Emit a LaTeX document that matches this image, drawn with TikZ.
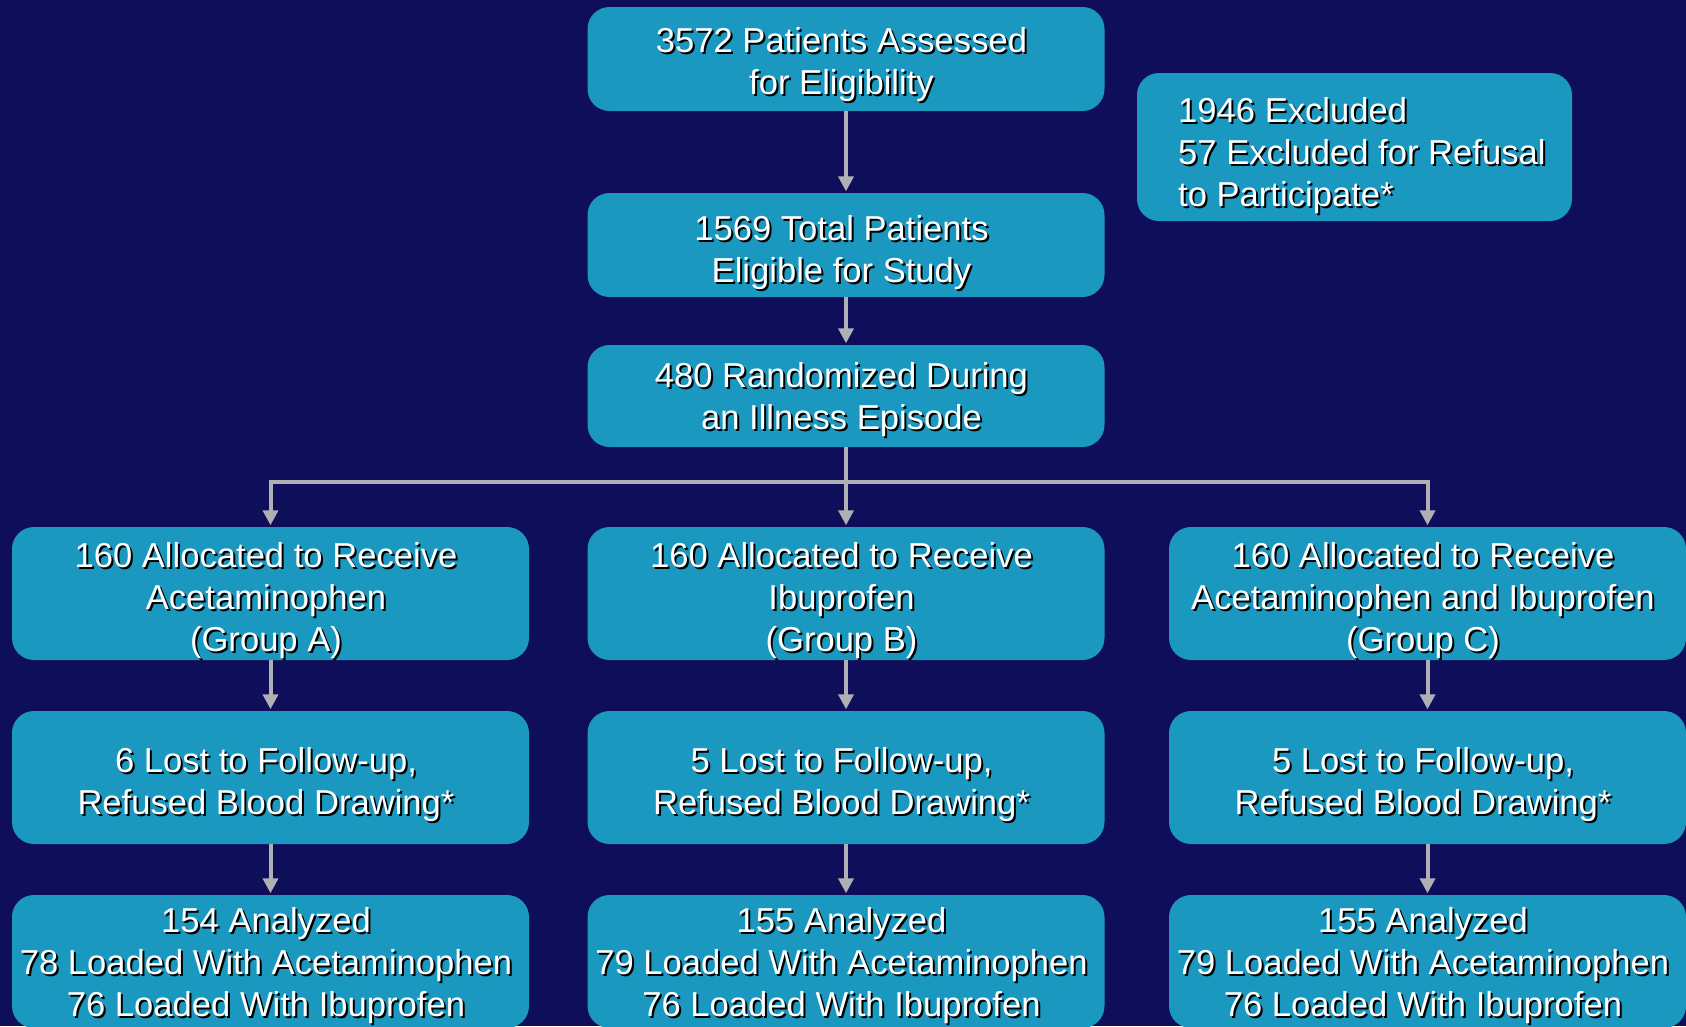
\documentclass[tikz,border=0pt]{standalone}
\usepackage{fontspec}
\setmainfont{Liberation Sans}
\usetikzlibrary{arrows.meta}
\definecolor{bgnavy}{RGB}{14,14,90}
\definecolor{boxblue}{RGB}{26,152,192}
\definecolor{arrgray}{RGB}{176,176,180}
\tikzset{
  boxshape/.style={fill=boxblue, rounded corners=22pt, inner sep=0pt, draw=none},
  txtbase/.style={font=\fontsize{34.6}{42}\selectfont, align=center, inner sep=0pt},
  shtxt/.style={txtbase, text=black},
  wtxt/.style={txtbase, text=white},
  arr/.style={draw=arrgray, line width=4pt, shorten >=1.5pt, -{Triangle[width=15pt,length=15pt]}},
  ln/.style={draw=arrgray, line width=4pt},
}
% #1 name, #2 cx, #3 cy, #4 w, #5 h, #6 text y-offset, #7 text
\newcommand\flowbox[7]{%
  \node[boxshape, minimum width=#4pt, minimum height=#5pt] (#1) at (#2,#3) {};
  \node[shtxt] (#1-s) at ([shift={(-2.5,#6+6)}]#1.center) {#7};
  \node[wtxt] (#1-t) at ([shift={(-4.5,#6+4)}]#1.center) {#7};
}
\begin{document}
\begin{tikzpicture}[x=1pt, y=-1pt]
\useasboundingbox (0,0) rectangle (1686,1026);
\fill[bgnavy] (0,0) rectangle (1686,1026);
\clip (0,0) rectangle (1686,1026);

\flowbox{top}{846}{59}{517}{104}{2}{3572 Patients Assessed\\for Eligibility}
\flowbox{elig}{846}{245}{517}{104}{4}{1569 Total Patients\\Eligible for Study}
\flowbox{rand}{846}{396}{517}{102}{0}{480 Randomized During\\an Illness Episode}

% excluded box (left-aligned text)
\node[boxshape, minimum width=435pt, minimum height=148pt] (excl) at (1354.5,147) {};
\node[shtxt, align=left, anchor=west] (excl-s) at (1180,158) {1946 Excluded\\57 Excluded for Refusal\\to Participate*};
\node[wtxt, align=left, anchor=west] (excl-t) at (1178,156) {1946 Excluded\\57 Excluded for Refusal\\to Participate*};

% allocation row
\flowbox{A1}{270.5}{593.5}{517}{133}{3}{160 Allocated to Receive\\Acetaminophen\\(Group A)}
\flowbox{B1}{846}{593.5}{517}{133}{3}{160 Allocated to Receive\\Ibuprofen\\(Group B)}
\flowbox{C1}{1427.5}{593.5}{517}{133}{3}{160 Allocated to Receive\\Acetaminophen and Ibuprofen\\(Group C)}

% lost row
\flowbox{A2}{270.5}{777.5}{517}{133}{3}{6 Lost to Follow-up,\\Refused Blood Drawing*}
\flowbox{B2}{846}{777.5}{517}{133}{3}{5 Lost to Follow-up,\\Refused Blood Drawing*}
\flowbox{C2}{1427.5}{777.5}{517}{133}{3}{5 Lost to Follow-up,\\Refused Blood Drawing*}

% analyzed row
\flowbox{A3}{270.5}{961.5}{517}{133}{0}{154 Analyzed\\78 Loaded With Acetaminophen\\76 Loaded With Ibuprofen}
\flowbox{B3}{846}{961.5}{517}{133}{0}{155 Analyzed\\79 Loaded With Acetaminophen\\76 Loaded With Ibuprofen}
\flowbox{C3}{1427.5}{961.5}{517}{133}{0}{155 Analyzed\\79 Loaded With Acetaminophen\\76 Loaded With Ibuprofen}

% connectors
\draw[arr] (top.south) -- (elig.north);
\draw[arr] (elig.south) -- (rand.north);
\coordinate (split) at (846,482);
\coordinate (splitA) at (A1.north |- split);
\coordinate (splitC) at (C1.north |- split);
\draw[ln, line cap=rect] (splitA) -- (splitC);
\draw[arr] (rand.south) -- (B1.north);
\draw[arr] (splitA) -- (A1.north);
\draw[arr] (splitC) -- (C1.north);

\draw[arr] (A1.south) -- (A2.north);
\draw[arr] (B1.south) -- (B2.north);
\draw[arr] (C1.south) -- (C2.north);
\draw[arr] (A2.south) -- (A3.north);
\draw[arr] (B2.south) -- (B3.north);
\draw[arr] (C2.south) -- (C3.north);
\end{tikzpicture}
\end{document}
